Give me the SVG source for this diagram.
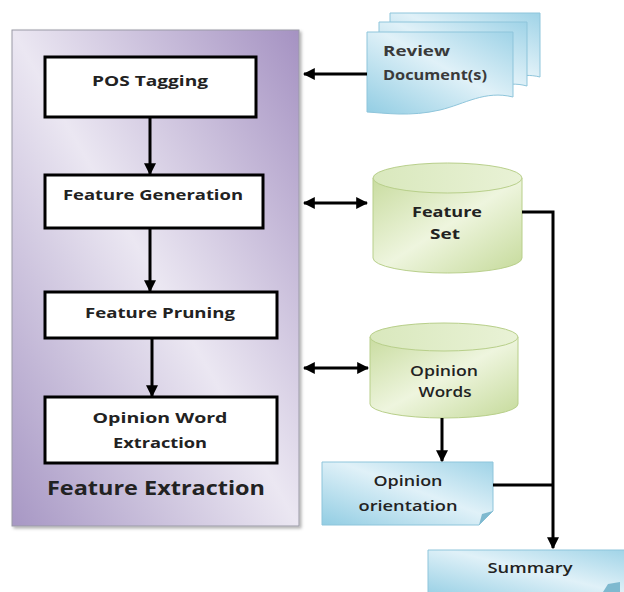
<svg xmlns="http://www.w3.org/2000/svg" width="624" height="592" viewBox="0 0 624 592">
<defs>
<linearGradient id="panelG" x1="1" y1="0" x2="0" y2="1">
<stop offset="0" stop-color="#a592c2"/>
<stop offset="0.5" stop-color="#ebe7f2"/>
<stop offset="1" stop-color="#a797c4"/>
</linearGradient>
<linearGradient id="blueG" x1="0" y1="1" x2="1" y2="0">
<stop offset="0" stop-color="#92cde3"/>
<stop offset="0.55" stop-color="#e0f1f8"/>
<stop offset="1" stop-color="#9fd3e7"/>
</linearGradient>
<linearGradient id="greenG" x1="0" y1="0" x2="1" y2="1">
<stop offset="0" stop-color="#c9dca0"/>
<stop offset="0.5" stop-color="#eef5de"/>
<stop offset="1" stop-color="#c5da9a"/>
</linearGradient>
<linearGradient id="greenTop" x1="0" y1="0" x2="1" y2="0">
<stop offset="0" stop-color="#d9e8bd"/>
<stop offset="1" stop-color="#e9f2d6"/>
</linearGradient>
<marker id="ah" viewBox="0 0 10 10" refX="9" refY="5" markerWidth="4" markerHeight="4" orient="auto-start-reverse">
<path d="M0,0 L10,5 L0,10 Z" fill="#000"/>
</marker>
<filter id="sh" x="-5%" y="-5%" width="115%" height="115%">
<feDropShadow dx="2" dy="2" stdDeviation="1.5" flood-color="#000" flood-opacity="0.3"/>
</filter>
</defs>
<style>
.box{fill:#fff;stroke:#000;stroke-width:3}
.lbl{font-family:"Open Sans","Liberation Sans",sans-serif;font-weight:bold;fill:#222;text-anchor:middle}
.dlbl{font-family:"Open Sans","Liberation Sans",sans-serif;font-weight:bold;fill:#3a3a3a}
.doc{fill:url(#blueG);stroke:#8ec5db;stroke-width:1}
.cyl{fill:url(#greenG);stroke:#b8cf8a;stroke-width:1}
.con{fill:none;stroke:#000;stroke-width:3}
</style>

<g id="feature-extraction">
<rect x="12" y="30" width="287" height="496" fill="url(#panelG)" stroke="#9a9aa6" stroke-width="1" filter="url(#sh)"/>
<text class="lbl" x="156" y="495" font-size="20" textLength="218" lengthAdjust="spacingAndGlyphs">Feature Extraction</text>
</g>

<g id="pos-tagging">
<rect class="box" x="45" y="57" width="211" height="60"/>
<text class="lbl" x="150" y="86" font-size="15" textLength="116" lengthAdjust="spacingAndGlyphs">POS Tagging</text>
</g>

<g id="feature-generation">
<rect class="box" x="45" y="175" width="218" height="53"/>
<text class="lbl" x="153" y="200" font-size="15" textLength="180" lengthAdjust="spacingAndGlyphs">Feature Generation</text>
</g>

<g id="feature-pruning">
<rect class="box" x="45" y="292" width="232" height="46"/>
<text class="lbl" x="160" y="318" font-size="15" textLength="150" lengthAdjust="spacingAndGlyphs">Feature Pruning</text>
</g>

<g id="opinion-word-extraction">
<rect class="box" x="45" y="397" width="232" height="66"/>
<text class="lbl" x="160" y="423" font-size="15" textLength="135" lengthAdjust="spacingAndGlyphs">Opinion Word</text>
<text class="lbl" x="160" y="448" font-size="15" textLength="94" lengthAdjust="spacingAndGlyphs">Extraction</text>
</g>

<g id="review-documents">
<path class="doc" d="M390,13 H540 V77 C520,72 505,80 490,86 L390,86 Z"/>
<path class="doc" d="M379,22 H527 V86 C505,80 490,90 470,96 L379,96 Z"/>
<path class="doc" d="M367,32 H513 V97 C485,90 465,104 440,110 C410,117 385,113 367,112 Z"/>
<text class="dlbl" x="383" y="56" font-size="15" textLength="67" lengthAdjust="spacingAndGlyphs">Review</text>
<text class="dlbl" x="383" y="80" font-size="15" textLength="104" lengthAdjust="spacingAndGlyphs">Document(s)</text>
</g>

<g id="feature-set">
<path class="cyl" d="M373,178 V258 A74.5,15 0 0 0 522,258 V178 Z"/>
<ellipse cx="447.5" cy="178" rx="74.5" ry="15" fill="url(#greenTop)" stroke="#b8cf8a" stroke-width="1"/>
<text class="lbl" x="447" y="217" font-size="15" textLength="70" lengthAdjust="spacingAndGlyphs">Feature</text>
<text class="lbl" x="445" y="239" font-size="15" textLength="30" lengthAdjust="spacingAndGlyphs">Set</text>
</g>

<g id="opinion-words">
<path class="cyl" d="M370,337 V404 A74,14 0 0 0 518,404 V337 Z"/>
<ellipse cx="444" cy="337" rx="74" ry="14" fill="url(#greenTop)" stroke="#b8cf8a" stroke-width="1"/>
<text class="lbl" x="444" y="376" font-size="15" font-weight="normal" style="font-weight:600" textLength="68" lengthAdjust="spacingAndGlyphs">Opinion</text>
<text class="lbl" x="445" y="397" font-size="15" style="font-weight:600" textLength="53" lengthAdjust="spacingAndGlyphs">Words</text>
</g>

<g id="opinion-orientation">
<path class="doc" d="M322,462 H493 V511 L479,525 H322 Z"/>
<path d="M479,525 L482,514 L493,511 Z" fill="#7fb9cf"/>
<text class="lbl" x="408" y="486" font-size="15" style="font-weight:600" textLength="69" lengthAdjust="spacingAndGlyphs">Opinion</text>
<text class="lbl" x="408" y="511" font-size="15" style="font-weight:600" textLength="99" lengthAdjust="spacingAndGlyphs">orientation</text>
</g>

<g id="summary">
<path class="doc" d="M428,550 H630 V600 H428 Z"/>
<path d="M603,592 L608,584 L620,582 L620,592 Z" fill="#7fb9cf"/>
<text class="lbl" x="530" y="573" font-size="15" style="font-weight:600" textLength="85" lengthAdjust="spacingAndGlyphs">Summary</text>
</g>

<g id="connectors">
<line class="con" x1="150" y1="117" x2="150" y2="174" marker-end="url(#ah)"/>
<line class="con" x1="150" y1="228" x2="150" y2="291" marker-end="url(#ah)"/>
<line class="con" x1="152" y1="338" x2="152" y2="396" marker-end="url(#ah)"/>
<line class="con" x1="367" y1="74" x2="304" y2="74" marker-end="url(#ah)"/>
<line class="con" x1="304" y1="203" x2="367" y2="203" marker-start="url(#ah)" marker-end="url(#ah)"/>
<line class="con" x1="304" y1="368" x2="368" y2="368" marker-start="url(#ah)" marker-end="url(#ah)"/>
<line class="con" x1="442" y1="418" x2="442" y2="461" marker-end="url(#ah)"/>
<path class="con" d="M522,212 H553 V548" marker-end="url(#ah)"/>
<line class="con" x1="493" y1="485" x2="553" y2="485"/>
</g>
</svg>
